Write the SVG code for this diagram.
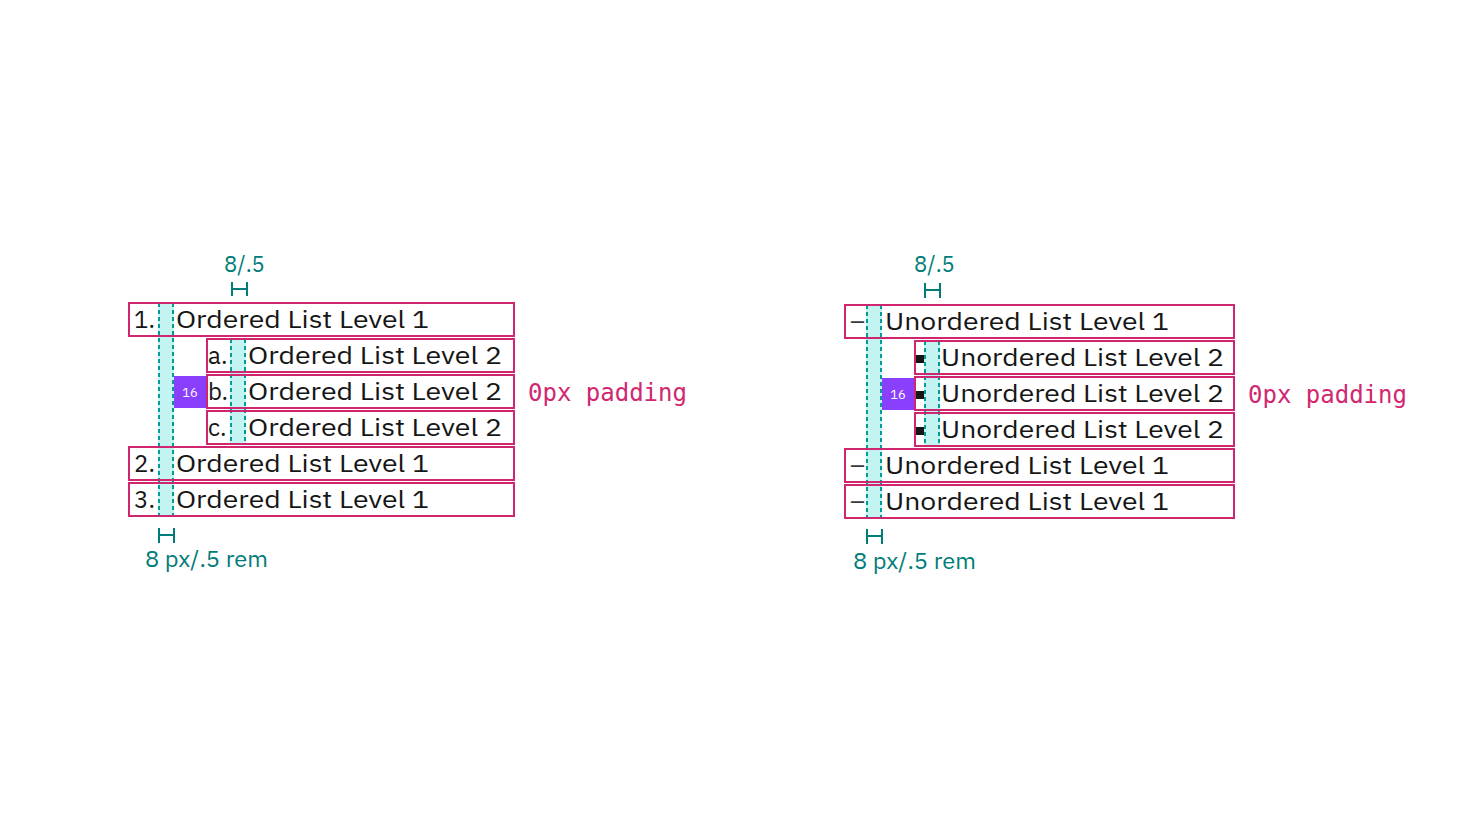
<svg xmlns="http://www.w3.org/2000/svg" width="1472" height="826" viewBox="0 0 1472 826">
<style>
.bg{fill:#ffffff}
.band{fill:#c4f4f1}
.dash{stroke:#009d9a;stroke-width:2;stroke-dasharray:4 3;fill:none}
.box{fill:none;stroke:#d02670;stroke-width:2}
.item{font-family:"IBM Plex Sans","DejaVu Sans",sans-serif;font-size:24px;fill:#161616}
.marker{font-family:"IBM Plex Sans","DejaVu Sans",sans-serif;font-size:24px;fill:#393939}
.dim{font-family:"IBM Plex Sans","DejaVu Sans",sans-serif;font-size:22px;fill:#007d79}
.dimline{stroke:#007d79;stroke-width:2;fill:none}
.pad{font-family:"DejaVu Sans Mono","Liberation Mono",monospace;font-size:24px;fill:#d12771}
.tag{fill:#8a3ffc}
.tagtext{font-family:"IBM Plex Sans","DejaVu Sans",sans-serif;font-size:13px;fill:#ffffff;text-anchor:middle}
.bullet{fill:#161616}
</style>
<rect class="bg" x="0" y="0" width="1472" height="826"/>

<!-- LEFT: ordered list -->
<g id="ordered-guides">
  <rect class="band" x="158" y="303" width="16" height="214"/>
  <rect class="band" x="230" y="339" width="16" height="106"/>
  <line class="dash" x1="159" y1="303" x2="159" y2="517"/>
  <line class="dash" x1="173" y1="303" x2="173" y2="517"/>
  <line class="dash" x1="231" y1="339" x2="231" y2="445"/>
  <line class="dash" x1="245" y1="339" x2="245" y2="445"/>
</g>
<g id="ordered-item-1">
  <rect class="box" x="129" y="303" width="385" height="33"/>
  <text class="item" x="134" y="328">1.</text>
  <text class="item" x="176" y="328" textLength="253" lengthAdjust="spacingAndGlyphs">Ordered List Level 1</text>
</g>
<g id="ordered-item-1a">
  <rect class="box" x="207" y="339" width="307" height="33"/>
  <text class="item" x="208" y="364">a.</text>
  <text class="item" x="248" y="364" textLength="254" lengthAdjust="spacingAndGlyphs">Ordered List Level 2</text>
</g>
<g id="ordered-item-1b">
  <rect class="box" x="207" y="375" width="307" height="33"/>
  <text class="item" x="208" y="400">b.</text>
  <text class="item" x="248" y="400" textLength="254" lengthAdjust="spacingAndGlyphs">Ordered List Level 2</text>
</g>
<g id="ordered-item-1c">
  <rect class="box" x="207" y="411" width="307" height="33"/>
  <text class="item" x="208" y="436">c.</text>
  <text class="item" x="248" y="436" textLength="254" lengthAdjust="spacingAndGlyphs">Ordered List Level 2</text>
</g>
<g id="ordered-item-2">
  <rect class="box" x="129" y="447" width="385" height="33"/>
  <text class="item" x="134" y="472">2.</text>
  <text class="item" x="176" y="472" textLength="253" lengthAdjust="spacingAndGlyphs">Ordered List Level 1</text>
</g>
<g id="ordered-item-3">
  <rect class="box" x="129" y="483" width="385" height="33"/>
  <text class="item" x="134" y="508">3.</text>
  <text class="item" x="176" y="508" textLength="253" lengthAdjust="spacingAndGlyphs">Ordered List Level 1</text>
</g>
<g id="ordered-indent-tag">
  <rect class="tag" x="174" y="376" width="32" height="32"/>
  <text class="tagtext" x="190" y="397">16</text>
</g>
<g id="ordered-dim-top">
  <text class="dim" x="224" y="272">8/.5</text>
  <path class="dimline" d="M232 282V296M247 282V296M232 289H247"/>
</g>
<g id="ordered-dim-bottom">
  <path class="dimline" d="M159 528V543M174 528V543M159 535H174"/>
  <text class="dim" x="145" y="567" textLength="123" lengthAdjust="spacingAndGlyphs">8 px/.5 rem</text>
</g>
<g id="ordered-padding-label">
  <text class="pad" x="528" y="401">0px padding</text>
</g>

<!-- RIGHT: unordered list -->
<g id="unordered-guides">
  <rect class="band" x="866" y="305" width="16" height="214"/>
  <rect class="band" x="924" y="341" width="16" height="106"/>
  <line class="dash" x1="867" y1="305" x2="867" y2="519"/>
  <line class="dash" x1="881" y1="305" x2="881" y2="519"/>
  <line class="dash" x1="925" y1="341" x2="925" y2="447"/>
  <line class="dash" x1="939" y1="341" x2="939" y2="447"/>
</g>
<g id="unordered-item-1">
  <rect class="box" x="845" y="305" width="389" height="33"/>
  <text class="marker" x="850" y="330" textLength="15" lengthAdjust="spacingAndGlyphs">–</text>
  <text class="item" x="885" y="330" textLength="284" lengthAdjust="spacingAndGlyphs">Unordered List Level 1</text>
</g>
<g id="unordered-item-1a">
  <rect class="box" x="915" y="341" width="319" height="33"/>
  <rect class="bullet" x="916" y="355" width="8" height="8"/>
  <text class="item" x="941" y="366" textLength="283" lengthAdjust="spacingAndGlyphs">Unordered List Level 2</text>
</g>
<g id="unordered-item-1b">
  <rect class="box" x="915" y="377" width="319" height="33"/>
  <rect class="bullet" x="916" y="391" width="8" height="8"/>
  <text class="item" x="941" y="402" textLength="283" lengthAdjust="spacingAndGlyphs">Unordered List Level 2</text>
</g>
<g id="unordered-item-1c">
  <rect class="box" x="915" y="413" width="319" height="33"/>
  <rect class="bullet" x="916" y="427" width="8" height="8"/>
  <text class="item" x="941" y="438" textLength="283" lengthAdjust="spacingAndGlyphs">Unordered List Level 2</text>
</g>
<g id="unordered-item-2">
  <rect class="box" x="845" y="449" width="389" height="33"/>
  <text class="marker" x="850" y="474" textLength="15" lengthAdjust="spacingAndGlyphs">–</text>
  <text class="item" x="885" y="474" textLength="284" lengthAdjust="spacingAndGlyphs">Unordered List Level 1</text>
</g>
<g id="unordered-item-3">
  <rect class="box" x="845" y="485" width="389" height="33"/>
  <text class="marker" x="850" y="510" textLength="15" lengthAdjust="spacingAndGlyphs">–</text>
  <text class="item" x="885" y="510" textLength="284" lengthAdjust="spacingAndGlyphs">Unordered List Level 1</text>
</g>
<g id="unordered-indent-tag">
  <rect class="tag" x="882" y="378" width="32" height="32"/>
  <text class="tagtext" x="898" y="399">16</text>
</g>
<g id="unordered-dim-top">
  <text class="dim" x="914" y="272">8/.5</text>
  <path class="dimline" d="M925 283V298M940 283V298M925 290H940"/>
</g>
<g id="unordered-dim-bottom">
  <path class="dimline" d="M867 529V544M882 529V544M867 536H882"/>
  <text class="dim" x="853" y="569" textLength="123" lengthAdjust="spacingAndGlyphs">8 px/.5 rem</text>
</g>
<g id="unordered-padding-label">
  <text class="pad" x="1248" y="403">0px padding</text>
</g>
</svg>
